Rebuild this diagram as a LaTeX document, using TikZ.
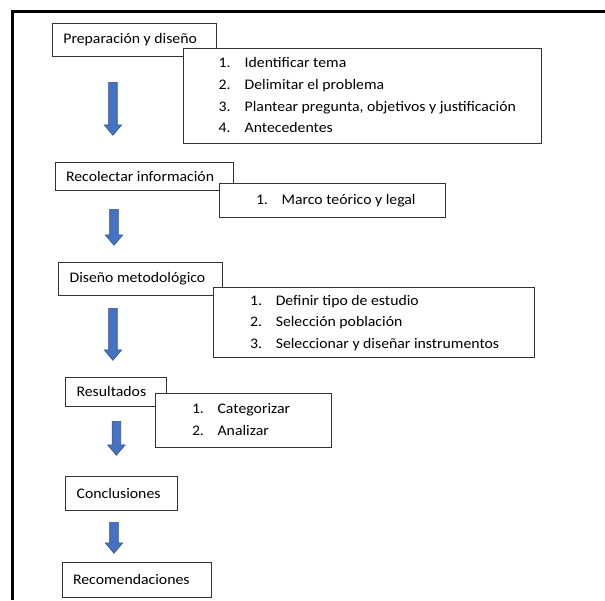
\documentclass[tikz,border=0pt]{standalone}
\usepackage{fontspec}
\setmainfont{Carlito}[FakeStretch=1.08]
\usepackage{xcolor}
\usepackage{tikz}
\usetikzlibrary{shapes,shapes.arrows,positioning,calc}

\definecolor{arrowblue}{HTML}{4472C4}
\definecolor{arrowedge}{HTML}{2F528F}

\tikzset{
    stage/.style={draw=black!80, line width=0.8pt, fill=white, anchor=north west,
        inner xsep=11pt, inner ysep=0pt},
    listbox/.style={draw=black!80, line width=0.8pt, fill=white, anchor=north west,
        inner sep=0pt, minimum width=#1},
    listtext/.style={inner sep=0pt, anchor=west},
    downarrow/.style={single arrow, rotate=-90, anchor=tail,
        fill=arrowblue, draw=arrowedge, line width=0.6pt,
        inner xsep=0pt, inner ysep=4pt, single arrow head extend=4.5pt,
        single arrow tip angle=80, minimum height=#1}
}

\begin{document}
\begin{tikzpicture}[x=1pt, y=-1pt, font=\fontsize{14.6}{21.6}\selectfont]
    \useasboundingbox (0,0) rectangle (605,600);

    % Frame (cut off at right and bottom)
    \coordinate (FrameB) at (12.5,600);
    \coordinate (FrameC) at (12.5,11.5);
    \coordinate (FrameR) at (605,11.5);
    \draw[line width=3.2pt] (FrameB) -- (FrameC) -- (FrameR);

    % Step 1
    \node[stage, minimum height=33pt] (Prep) at (52,23) {\makebox[142pt][l]{Preparación y diseño}};
    \node[listbox=358pt, minimum height=95pt] (PrepList) at (182.5,48) {};
    \node[listtext, right=36pt of PrepList.west] (PrepItems) {%
        \begin{tabular}{@{}p{26pt}@{}l@{}}
        1. & Identificar tema\\
        2. & Delimitar el problema\\
        3. & Plantear pregunta, objetivos y justificación\\
        4. & Antecedentes
        \end{tabular}};

    % Step 2
    \node[stage, minimum height=28pt] (Recol) at (54.7,162) {\makebox[156pt][l]{Recolectar información}};
    \node[listbox=226pt, minimum height=34pt] (RecolList) at (218.8,183) {};
    \node[listtext, right=37pt of RecolList.west] (RecolItems) {%
        \begin{tabular}{@{}p{25.6pt}@{}l@{}}
        1. & Marco teórico y legal
        \end{tabular}};

    % Step 3
    \node[stage, minimum height=33pt] (Metod) at (58.2,262) {\makebox[142pt][l]{Diseño metodológico}};
    \node[listbox=321pt, minimum height=70pt] (MetodList) at (213,287) {};
    \node[listtext, right=37pt of MetodList.west] (MetodItems) {%
        \begin{tabular}{@{}p{25.6pt}@{}l@{}}
        1. & Definir tipo de estudio\\
        2. & Selección población\\
        3. & Seleccionar y diseñar instrumentos
        \end{tabular}};

    % Step 4
    \node[stage, minimum height=29pt] (Result) at (65.2,377) {\makebox[79pt][l]{Resultados}};
    \node[listbox=176pt, minimum height=54pt] (ResultList) at (154.8,393) {};
    \node[listtext, right=37pt of ResultList.west] (ResultItems) {%
        \begin{tabular}{@{}p{25.6pt}@{}l@{}}
        1. & Categorizar\\
        2. & Analizar
        \end{tabular}};

    % Steps 5 and 6
    \node[stage, minimum height=34pt] (Concl) at (65.2,476) {\makebox[90pt][l]{Conclusiones}};
    \node[stage, minimum height=35pt] (Recom) at (61.7,562) {\makebox[127pt][l]{Recomendaciones}};

    % Block arrows
    \node[downarrow=53pt] (A1) at (112.9,82) {};
    \node[downarrow=36pt] (A2) at (114,209) {};
    \node[downarrow=52pt] (A3) at (112.9,308) {};
    \node[downarrow=34pt] (A4) at (116.4,421) {};
    \node[downarrow=31pt] (A5) at (114,522) {};
\end{tikzpicture}
\end{document}
